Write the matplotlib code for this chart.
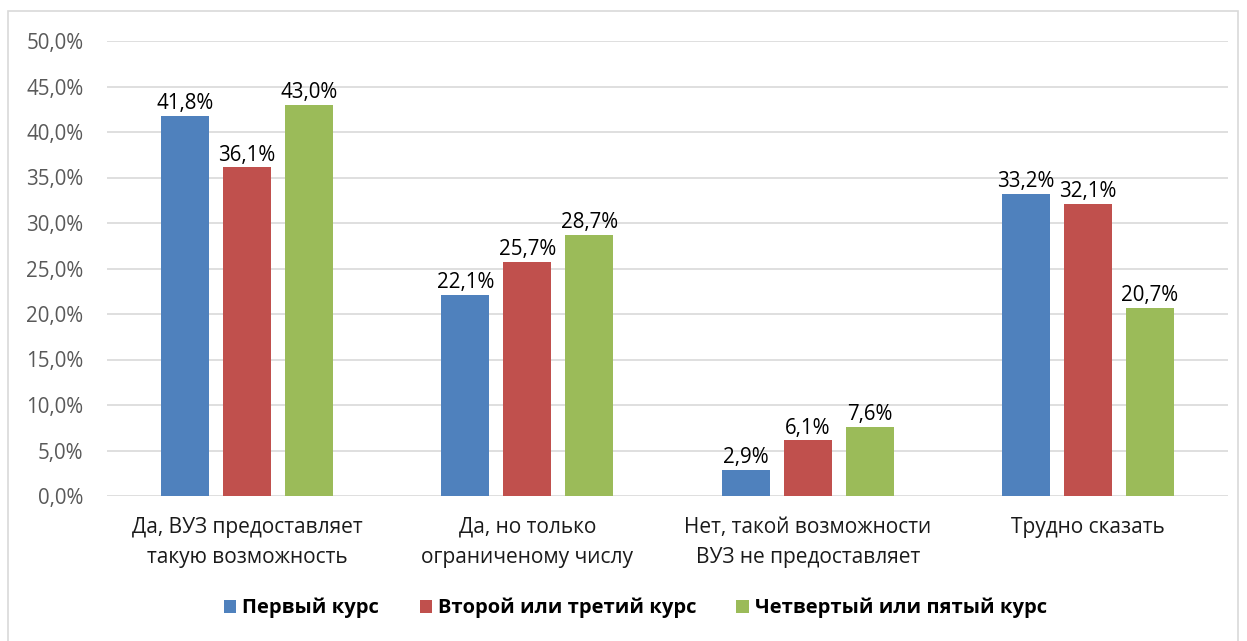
import matplotlib
matplotlib.use("Agg")
import matplotlib.pyplot as plt
from matplotlib.patches import Rectangle
from matplotlib.ticker import FuncFormatter
import numpy as np

plt.rcParams['font.family'] = ['Open Sans', 'DejaVu Sans']

categories = ["Да, ВУЗ предоставляет\nтакую возможность",
              "Да, но только\nограниченому числу",
              "Нет, такой возможности\nВУЗ не предоставляет",
              "Трудно сказать"]
series_names = ["Первый курс", "Второй или третий курс", "Четвертый или пятый курс"]
first = [41.8, 22.1, 2.9, 33.2]
second = [36.1, 25.7, 6.1, 32.1]
third = [43.0, 28.7, 7.6, 20.7]
colors = ["#4F81BD", "#C0504D", "#9BBB59"]

W, H = 1247, 641
fig = plt.figure(figsize=(W / 100, H / 100), dpi=100)
ax = fig.add_axes([107 / W, 1 - 496 / H, (1228 - 107) / W, (496 - 41) / H])

# light frame around the chart
fig.patches.append(Rectangle((8 / W, -0.01), (1238 - 8) / W, 1 - 11 / H + 0.01,
                             transform=fig.transFigure, fill=False,
                             edgecolor="#D9D9D9", linewidth=1.2))

x = np.arange(len(categories))
step = 62 / 280
width = 48 / 280
for i, (vals, name) in enumerate(zip([first, second, third], series_names)):
    pos = x + (i - 1) * step
    bars = ax.bar(pos, vals, width, color=colors[i], label=name, zorder=3)
    for b, v in zip(bars, vals):
        ax.text(b.get_x() + b.get_width() / 2, v + 0.2,
                f"{v:.1f}%".replace(".", ","), ha="center", va="bottom",
                fontsize=14.8, color="black")

ax.set_xlim(-0.5, len(categories) - 0.5)
ax.set_ylim(0, 50)
ax.set_yticks(np.arange(0, 51, 5))
ax.yaxis.set_major_formatter(FuncFormatter(lambda v, p: f"{v:.1f}%".replace(".", ",")))
ax.grid(axis="y", color="#D9D9D9", linewidth=1.2, zorder=0)
ax.set_xticks(x)
ax.set_xticklabels(categories, fontsize=15, color="#1a1a1a", linespacing=1.55)
ax.tick_params(axis="y", labelsize=14.8, labelcolor="#595959", length=0, pad=17)
ax.tick_params(axis="x", length=0, pad=15)
for s in ax.spines.values():
    s.set_visible(False)

leg = fig.legend(loc="center", bbox_to_anchor=(0.5 + 12 / W, 1 - 608 / H), ncol=3,
                 frameon=False, handlelength=0.6, handleheight=0.6,
                 handletextpad=0.3, columnspacing=2.0,
                 prop={"size": 14.5, "weight": "bold"})

fig.savefig("out.png", dpi=100)
